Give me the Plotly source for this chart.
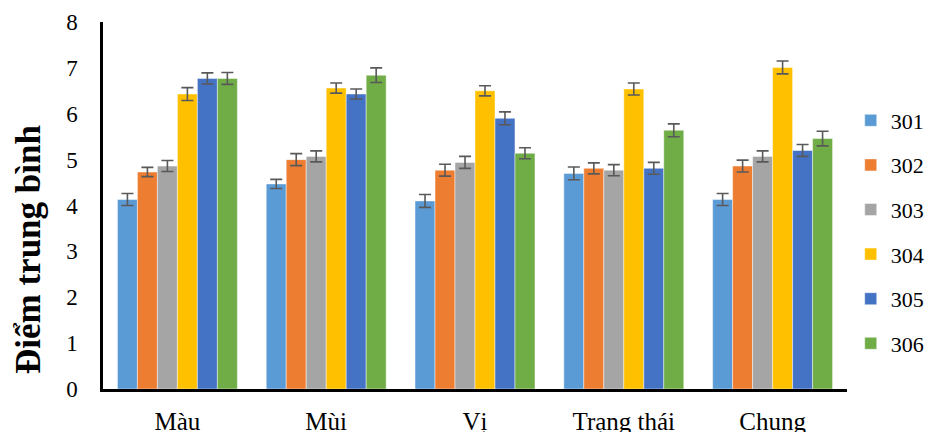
import plotly.graph_objects as go

categories = ["Màu", "Mùi", "Vị", "Trạng thái", "Chung"]
series_names = ["301", "302", "303", "304", "305", "306"]
s301 = [4.13, 4.47, 4.10, 4.70, 4.13]
s302 = [4.73, 5.00, 4.77, 4.81, 4.86]
s303 = [4.86, 5.07, 4.94, 4.77, 5.07]
s304 = [6.43, 6.56, 6.50, 6.54, 7.01]
s305 = [6.77, 6.43, 5.90, 4.81, 5.20]
s306 = [6.77, 6.84, 5.14, 5.64, 5.46]
e301 = [0.13, 0.10, 0.14, 0.14, 0.13]
e302 = [0.10, 0.13, 0.13, 0.12, 0.13]
e303 = [0.12, 0.12, 0.13, 0.12, 0.12]
e304 = [0.14, 0.11, 0.11, 0.13, 0.14]
e305 = [0.12, 0.11, 0.14, 0.13, 0.13]
e306 = [0.13, 0.16, 0.12, 0.14, 0.16]
colors = ["#5B9BD5", "#ED7D31", "#A5A5A5", "#FFC000", "#4472C4", "#70AD47"]
yticks = [0, 1, 2, 3, 4, 5, 6, 7, 8]

values = [s301, s302, s303, s304, s305, s306]
errors = [e301, e302, e303, e304, e305, e306]

FONT = "Liberation Serif, Times New Roman, serif"
# page body has an 8px margin: shrink figure and margins accordingly
W, H = 927, 424
L, T = 95, 14
PW, PH = 744, 367
fig = go.Figure()
for name, vals, errs, col in zip(series_names, values, errors, colors):
    fig.add_trace(go.Bar(
        name=name, x=categories, y=vals, legendgroup=name,
        marker=dict(color=col, line=dict(color="rgba(255,255,255,0.45)", width=1)),
        error_y=dict(type="data", array=errs, color="#595959", thickness=1.6, width=6),
    ))

fig.update_layout(
    width=W, height=H,
    margin=dict(l=L, r=W - L - PW, t=T, b=H - T - PH, autoexpand=False),
    paper_bgcolor="white", plot_bgcolor="white",
    barmode="group", bargap=0.194, bargroupgap=0,
    font=dict(family=FONT, color="black"),
    legend=dict(
        x=1.005, xanchor="left", y=(381 - 224) / PH, yanchor="middle",
        font=dict(family=FONT, size=22, color="black"),
        tracegroupgap=13, itemwidth=30,
    ),
    showlegend=True,
)
fig.update_xaxes(
    showline=True, linecolor="black", linewidth=3, ticks="",
    tickfont=dict(family=FONT, size=25, color="black"),
    ticklabelstandoff=8, showgrid=False, automargin=False,
)
fig.update_yaxes(
    range=[0, 8], tickvals=yticks, showline=True, linecolor="black", linewidth=2.5,
    ticks="", showgrid=False, zeroline=False,
    tickfont=dict(family=FONT, size=23, color="black"),
    ticklabelstandoff=18, automargin=False,
)
fig.add_annotation(
    text="<b>Điểm trung bình</b>", xref="paper", yref="paper",
    x=(20 - L) / PW, y=(381 - 242) / PH, xanchor="center", yanchor="middle",
    textangle=-90, showarrow=False,
    font=dict(family=FONT, size=35, color="black"),
)
fig.write_html("out.html")
